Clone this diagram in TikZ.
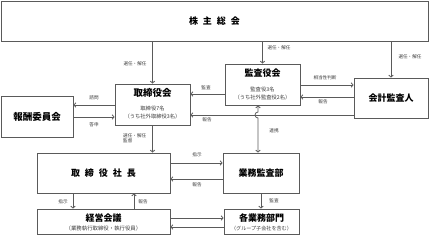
\documentclass[tikz,border=0pt]{standalone}
\usepackage{fontspec}
\setmainfont{Noto Sans CJK JP}
\usetikzlibrary{arrows.meta}
\definecolor{ln}{HTML}{5A5A5A}
\definecolor{lb}{HTML}{3A3A3A}
\begin{document}
\begin{tikzpicture}[x=1pt,y=-1pt,
  box/.style={draw=ln, line width=0.8pt, inner sep=0pt},
  ttl/.style={inner sep=0pt, font=\fontsize{9}{10}\selectfont\bfseries},
  sub/.style={inner sep=0pt, align=center, text=lb, font=\fontsize{5.3}{8}\selectfont},
  lab/.style={inner sep=0pt, text=lb, font=\fontsize{4.6}{5.5}\selectfont},
  arr/.style={draw=ln, line width=0.8pt, -{Straight Barb[length=2pt,width=4.5pt]}},
  arrb/.style={draw=ln, line width=0.8pt, {Straight Barb[length=2pt,width=4.5pt]}-{Straight Barb[length=2pt,width=4.5pt]}}]
\useasboundingbox (0,0) rectangle (429,235);

% boxes
\node[box, minimum width=427pt, minimum height=40pt] (soukai) at (214.5,21) {};
\node[ttl] (soukaiT) at (214.5,21) {株\hspace{5pt}主\hspace{5pt}総\hspace{5pt}会};

\node[box, minimum width=72pt, minimum height=41pt] (hoshu) at (37,116.5) {};
\node[ttl, font=\fontsize{9.5}{10}\selectfont\bfseries] (hoshuT) at (37,116.5) {報酬委員会};

\node[box, minimum width=75pt, minimum height=41pt] (tori) at (152.5,104.5) {};
\node[ttl, font=\fontsize{9.5}{10}\selectfont\bfseries] (toriT) at (152.5,93) {取締役会};
\node[sub] (toriS) at (152.5,113) {取締役7名\\（うち社外取締役3名）};

\node[box, minimum width=75pt, minimum height=41pt] (kansa) at (262.5,84.5) {};
\node[ttl] (kansaT) at (262.5,73) {監査役会};
\node[sub] (kansaS) at (262.5,94) {監査役3名\\（うち社外監査役2名）};

\node[box, minimum width=74pt, minimum height=40pt] (kaikei) at (391,98) {};
\node[ttl] (kaikeiT) at (391,98) {会計監査人};

\node[box, minimum width=133pt, minimum height=40pt] (shacho) at (103.5,173) {};
\node[ttl] (shachoT) at (103.5,173) {取\hspace{5pt}締\hspace{5pt}役\hspace{5pt}社\hspace{5pt}長};

\node[box, minimum width=76pt, minimum height=40pt] (gyomu) at (261,173) {};
\node[ttl] (gyomuT) at (261,173) {業務監査部};

\node[box, minimum width=133pt, minimum height=25pt] (keiei) at (103.5,221.5) {};
\node[ttl] (keieiT) at (103.5,218) {経営会議};
\node[sub, font=\fontsize{5.4}{6}\selectfont] (keieiS) at (103.5,228.5) {（業務執行取締役・執行役員）};

\node[box, minimum width=75pt, minimum height=25pt] (kaku) at (261.5,221.5) {};
\node[ttl] (kakuT) at (261.5,218) {各業務部門};
\node[sub, font=\fontsize{5.1}{6}\selectfont] (kakuS) at (261.5,228.5) {（グループ子会社を含む）};

% connectors from 株主総会
\draw[arr] (tori.north |- soukai.south) -- (tori.north);
\draw[arr] (kansa.north |- soukai.south) -- (kansa.north);
\draw[arr] (kaikei.north |- soukai.south) -- (kaikei.north);
\node[lab] (l1) at (135,64) {選任・解任};
\node[lab] (l2) at (279,48) {選任・解任};
\node[lab] (l3) at (410,57) {選任・解任};

% 取締役会 <-> 報酬委員会
\draw[arr] (tori.west |- 0,105) -- (hoshu.east |- 0,105);
\draw[arr] (hoshu.east |- 0,117) -- (tori.west |- 0,117);
\node[lab] (l4) at (94,98) {諮問};
\node[lab] (l5) at (94,125) {答申};

% 監査役会 / 会計監査人
\draw[arr] (kansa.west |- 0,94) -- (tori.east |- 0,94);
\node[lab] (l6) at (206,88) {監査};
\draw[arr] (kansa.east |- 0,85) -- (kaikei.west |- 0,85);
\node[lab] (l7) at (325,78) {相当性判断};
\draw[arr] (kaikei.west |- 0,97) -- (kansa.east |- 0,97);
\node[lab] (l8) at (323,102) {報告};
\draw[arr] (kaikei.west |- 0,115) -- (tori.east |- 0,115);
\node[lab] (l9) at (207,120) {報告};

% 連携
\draw[arrb] (gyomu.north -| 258,0) -- (258,118) arc[start angle=90, end angle=270, radius=3] -- (kansa.south -| 258,0);
\node[lab] (l10) at (274,131) {連携};

% 取締役会 -> 社長
\draw[arr] (tori.south) -- (tori.south |- shacho.north);
\node[lab, anchor=west, align=left] (l11) at (123,138.5) {選任・解任\\監督};

% 社長 <-> 業務監査部
\draw[arr] (shacho.east |- 0,163) -- (gyomu.west |- 0,163);
\node[lab] (l12) at (197,155) {指示};
\draw[arr] (gyomu.west |- 0,179) -- (shacho.east |- 0,179);
\node[lab] (l13) at (197,185) {報告};

% 社長 <-> 経営会議
\draw[arr] (shacho.south -| 73,0) -- (keiei.north -| 73,0);
\node[lab] (l14) at (63,202) {指示};
\draw[arr] (keiei.north -| 134,0) -- (shacho.south -| 134,0);
\node[lab] (l15) at (143,202) {報告};

% 業務監査部 -> 各業務部門
\draw[arr] (gyomu.south) -- (gyomu.south |- kaku.north);
\node[lab] (l16) at (274,201) {監査};

% 経営会議 <-> 各業務部門
\draw[arr] (keiei.east |- 0,218) -- (kaku.west |- 0,218);
\draw[arr] (kaku.west |- 0,227) -- (keiei.east |- 0,227);
\end{tikzpicture}
\end{document}
